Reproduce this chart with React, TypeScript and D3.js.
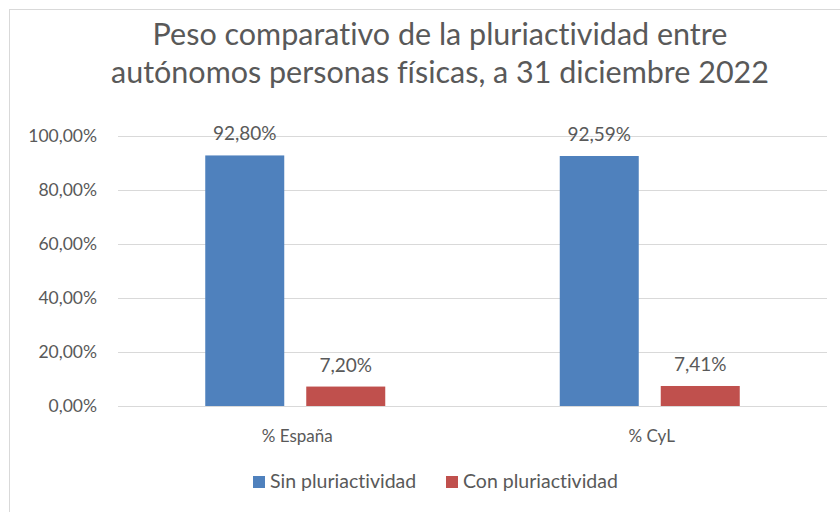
import React, { useRef, useEffect } from 'react';
import * as d3 from 'd3';

const categories = ['% España', '% CyL'];
const seriesNames = ['Sin pluriactividad', 'Con pluriactividad'];
const sinValues = [0.928, 0.9259];
const conValues = [0.072, 0.0741];
const yTicks = [0, 0.2, 0.4, 0.6, 0.8, 1.0];
const titleLines = [
  'Peso comparativo de la pluriactividad entre',
  'autónomos personas físicas, a 31 diciembre 2022',
];

const colors = ['#4F81BD', '#C0504D'];
const textColor = '#595959';
const font = 'Lato, "Open Sans", sans-serif';

const fmtPct = (v: number) => d3.format('.2f')(v * 100).replace('.', ',') + '%';

const App: React.FC = () => {
  const svgRef = useRef<SVGSVGElement>(null);

  useEffect(() => {
    if (!svgRef.current) return;
    const svg = d3.select(svgRef.current);
    svg.selectAll('*').remove();

    const width = 840;
    const height = 512;

    svg.append('rect')
      .attr('x', 0).attr('y', 0).attr('width', width).attr('height', height)
      .attr('fill', 'white');

    // chart border
    svg.append('rect')
      .attr('x', 9.5).attr('y', 9.5).attr('width', width + 20).attr('height', height + 20)
      .attr('fill', 'none').attr('stroke', '#d9d9d9');

    const txt = (sel: any, size: number) => sel
      .attr('font-family', font)
      .attr('font-size', size + 'px')
      .attr('fill', textColor)
      .style('font-variant-ligatures', 'none');

    // Title
    svg.append('g').selectAll('text')
      .data(titleLines)
      .enter().append('text')
      .attr('x', 440)
      .attr('y', (d, i) => 45 + i * 38)
      .attr('text-anchor', 'middle')
      .call(txt, 30.5)
      .text(d => d);

    const left = 118, right = 827, top = 136, bottom = 406;

    const x = d3.scaleBand().domain(categories).range([left, right]);
    const y = d3.scaleLinear().domain([0, 1]).range([bottom, top]);
    const barW = 79;
    const gap = 22;

    // grid
    svg.append('g').selectAll('line')
      .data(yTicks)
      .enter().append('line')
      .attr('x1', left).attr('x2', right)
      .attr('y1', d => Math.round(y(d)) + 0.5).attr('y2', d => Math.round(y(d)) + 0.5)
      .attr('stroke', '#d9d9d9').attr('stroke-width', 1);

    // y tick labels
    svg.append('g').selectAll('text')
      .data(yTicks)
      .enter().append('text')
      .attr('x', 97)
      .attr('y', d => y(d) + 6)
      .attr('text-anchor', 'end')
      .call(txt, 17.5)
      .text(d => fmtPct(d));

    const series = [sinValues, conValues];
    series.forEach((vals, si) => {
      const g = svg.append('g');
      const bx = (c: string) => {
        const center = (x(c) || 0) + x.bandwidth() / 2;
        return si === 0 ? center - gap / 2 - barW : center + gap / 2;
      };
      g.selectAll('rect')
        .data(categories)
        .enter().append('rect')
        .attr('x', c => bx(c))
        .attr('y', (c, i) => y(vals[i]))
        .attr('width', barW)
        .attr('height', (c, i) => bottom - y(vals[i]))
        .attr('fill', colors[si]);
      g.selectAll('text')
        .data(categories)
        .enter().append('text')
        .attr('x', c => bx(c) + barW / 2)
        .attr('y', (c, i) => y(vals[i]) - 15)
        .attr('text-anchor', 'middle')
        .call(txt, 19)
        .text((c, i) => fmtPct(vals[i]));
    });

    // category labels
    svg.append('g').selectAll('text')
      .data(categories)
      .enter().append('text')
      .attr('x', c => (x(c) || 0) + x.bandwidth() / 2 + 2)
      .attr('y', 442)
      .attr('text-anchor', 'middle')
      .call(txt, 17)
      .text(c => c);

    // legend
    const legendX = [253, 446];
    const lg = svg.append('g');
    seriesNames.forEach((name, i) => {
      lg.append('rect')
        .attr('x', legendX[i]).attr('y', 476)
        .attr('width', 12).attr('height', 12)
        .attr('fill', colors[i]);
      lg.append('text')
        .attr('x', legendX[i] + 17)
        .attr('y', 488)
        .call(txt, 19.5)
        .text(name);
    });
  }, []);

  return <svg ref={svgRef} width={840} height={512} style={{ display: 'block', position: 'absolute', left: 0, top: 0 }} />;
};

export default App;
